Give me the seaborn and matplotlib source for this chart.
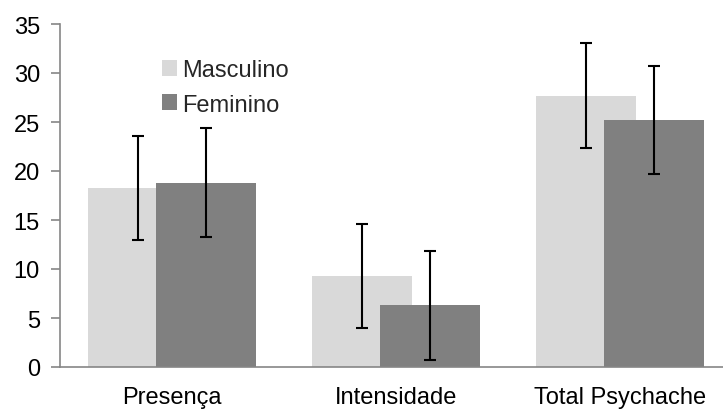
import matplotlib
matplotlib.use("Agg")
import matplotlib.pyplot as plt
import seaborn as sns
import pandas as pd
import numpy as np

categories = ["Presença", "Intensidade", "Total Psychache"]
groups = ["Masculino", "Feminino"]
masc_mean = [18.3, 9.3, 27.7]
fem_mean = [18.8, 6.3, 25.2]
masc_sd = [5.3, 5.3, 5.35]
fem_sd = [5.55, 5.55, 5.55]
colors = {"Masculino": "#D9D9D9", "Feminino": "#808080"}

df = pd.DataFrame({
    "cat": categories * 2,
    "grupo": ["Masculino"] * 3 + ["Feminino"] * 3,
    "valor": masc_mean + fem_mean,
    "sd": masc_sd + fem_sd,
})

sns.set_theme(style="white")
plt.rcParams['font.family'] = ['Liberation Sans', 'DejaVu Sans']

fig = plt.figure(figsize=(7.23, 4.10), dpi=100)
ax = fig.add_axes([60/723, 1-368/410, 672/723, (368-25)/410])

sns.barplot(data=df, x="cat", y="valor", hue="grupo", hue_order=groups,
            order=categories, palette=colors, width=0.6, dodge=True,
            errorbar=None, ax=ax, saturation=1, edgecolor="none", linewidth=0)

bw = 0.447
for p in ax.patches:
    c = p.get_x() + p.get_width() / 2
    p.set_x(c - bw / 2)
    p.set_width(bw)

# error bars
for gi, g in enumerate(groups):
    sub = df[df.grupo == g].set_index("cat").loc[categories]
    xs = np.arange(len(categories)) + (-0.15 if gi == 0 else 0.15)
    ax.errorbar(xs, sub["valor"], yerr=sub["sd"], fmt="none", ecolor="black",
                elinewidth=1.5, capsize=4, capthick=1.5, zorder=5)

ax.set_xlim(-0.5, 2.5)
ax.set_ylim(0, 35)
ax.set_yticks(range(0, 36, 5))
ax.set_xlabel("")
ax.set_ylabel("")

spine_c = "#868686"
for s in ["top", "right"]:
    ax.spines[s].set_visible(False)
for s in ["left", "bottom"]:
    ax.spines[s].set_color(spine_c)
    ax.spines[s].set_linewidth(1.2)

ax.set_xticks([0, 1, 2])
ax.set_xticklabels(categories)
ax.tick_params(axis="x", length=0, pad=13.5, labelsize=17, colors="black")
ax.set_xticks([-0.5, 0.5, 1.5], minor=True)
ax.tick_params(axis="x", which="minor", length=7, width=1.2, color=spine_c, direction="out")
ax.tick_params(axis="y", length=6.5, width=1.2, color=spine_c, direction="out", pad=8,
               labelsize=17, labelcolor="black", left=True)

leg = ax.legend(loc="upper left", bbox_to_anchor=(0.152, 0.897), frameon=False,
                fontsize=17, handlelength=0.65, handleheight=0.65,
                handletextpad=0.2, labelspacing=0.52, borderpad=0, borderaxespad=0)

fig.savefig("out.png", dpi=100)
